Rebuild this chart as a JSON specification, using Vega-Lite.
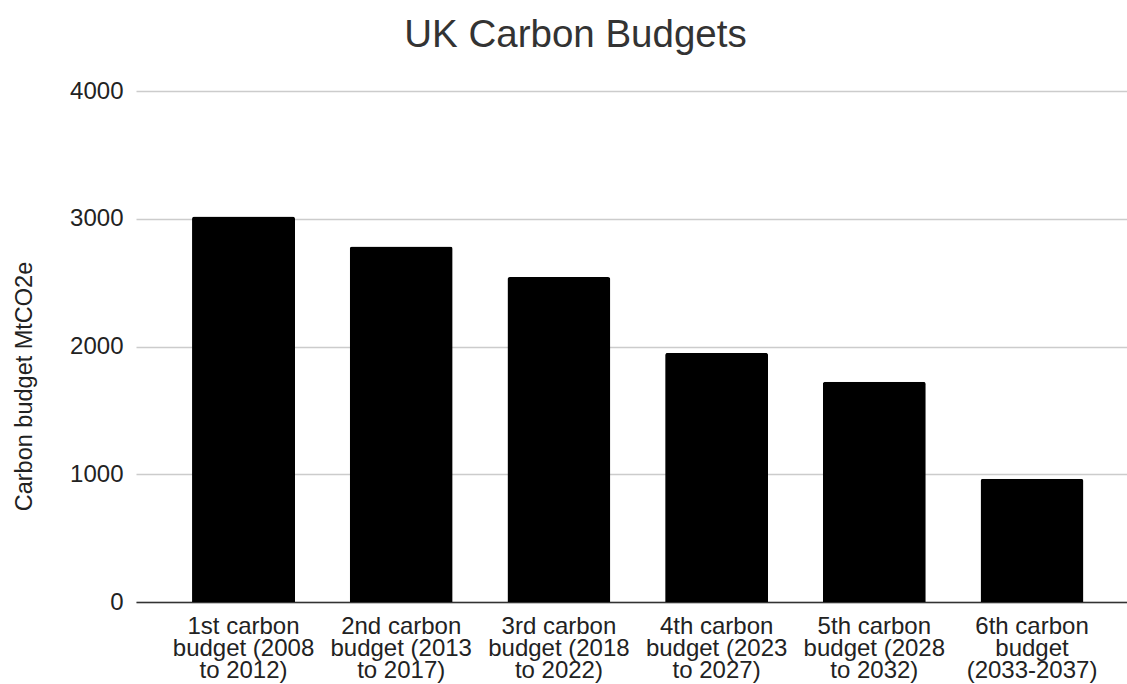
{
  "$schema": "https://vega.github.io/schema/vega-lite/v6.json",
  "width": 991,
  "height": 511,
  "autosize": {"type": "none"},
  "padding": {"left": 136, "top": 91, "right": 0, "bottom": 82},
  "background": "white",
  "title": {
    "text": "UK Carbon Budgets",
    "font": "Liberation Sans",
    "fontSize": 38.5,
    "fontWeight": "normal",
    "color": "#333333",
    "anchor": "middle",
    "dx": -56,
    "offset": 24
  },
  "data": {
    "values": [
      {"budget": "1st carbon budget (2008 to 2012)", "value": 3018},
      {"budget": "2nd carbon budget (2013 to 2017)", "value": 2782},
      {"budget": "3rd carbon budget (2018 to 2022)", "value": 2544},
      {"budget": "4th carbon budget (2023 to 2027)", "value": 1950},
      {"budget": "5th carbon budget (2028 to 2032)", "value": 1725},
      {"budget": "6th carbon budget (2033-2037)", "value": 965}
    ]
  },
  "mark": {"type": "bar", "color": "#000000", "cornerRadiusEnd": 2.5},
  "encoding": {
    "x": {
      "field": "budget",
      "type": "nominal",
      "sort": null,
      "scale": {"paddingInner": 0.347, "paddingOuter": 0.3155, "align": 0.563},
      "axis": {
        "title": null,
        "labelAngle": 0,
        "labelFont": "Liberation Sans",
        "labelFontSize": 24,
        "labelColor": "#222222",
        "labelLineHeight": 22.4,
        "labelPadding": 12,
        "labelLimit": 200,
        "ticks": false,
        "grid": false,
        "domainColor": "#333333",
        "domainWidth": 1.5,
        "labelExpr": "split(replace(replace(datum.label, regexp('^(\\\\S+ carbon) (budget \\\\(\\\\d+) (to .*)$'), '$1|$2|$3'), regexp('^(\\\\S+ carbon) (budget) (\\\\(.*)$'), '$1|$2|$3'), '|')"
      }
    },
    "y": {
      "field": "value",
      "type": "quantitative",
      "scale": {"domain": [0, 4000], "nice": false},
      "axis": {
        "title": "Carbon budget MtCO2e",
        "titleFont": "Liberation Sans",
        "titleFontSize": 23.5,
        "titleFontWeight": "normal",
        "titleColor": "#222222",
        "titleX": -100,
        "titleY": 295,
        "values": [0, 1000, 2000, 3000, 4000],
        "format": "d",
        "labelFont": "Liberation Sans",
        "labelFontSize": 24,
        "labelColor": "#222222",
        "labelPadding": 13,
        "ticks": false,
        "domain": false,
        "gridColor": "#cccccc",
        "gridWidth": 1.5
      }
    }
  },
  "config": {"view": {"stroke": null}}
}
